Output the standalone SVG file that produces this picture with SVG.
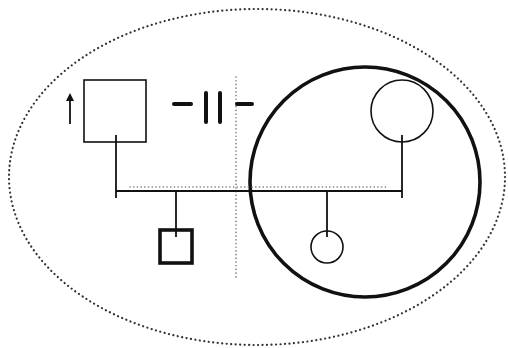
<svg xmlns="http://www.w3.org/2000/svg" width="508" height="348" viewBox="0 0 508 348">
<style>
.dot{fill:none;stroke:#333;stroke-width:2.2;stroke-dasharray:0.1 4.4;stroke-linecap:round}
.fine{fill:none;stroke:#777;stroke-width:1.6;stroke-dasharray:0.1 3.6;stroke-linecap:round}
.thin{fill:none;stroke:#111;stroke-width:1.6}
.thick{fill:none;stroke:#111;stroke-width:3.6}
.line{fill:none;stroke:#111;stroke-width:1.8}
.bar{fill:none;stroke:#111;stroke-width:4;stroke-linecap:round}
</style>
<rect width="508" height="348" fill="#fff"/>
<g id="boundary">
<ellipse class="dot" cx="257" cy="177" rx="248" ry="168"/>
</g>
<g id="household">
<circle class="thick" cx="365" cy="182" r="115"/>
</g>
<g id="divider">
<line class="fine" x1="236" y1="77" x2="236" y2="277"/>
</g>
<g id="father">
<rect class="thin" x="84" y="80" width="62" height="62"/>
</g>
<g id="mother">
<circle class="thin" cx="402" cy="111" r="31"/>
</g>
<g id="son">
<rect class="thick" x="160" y="230" width="32" height="33"/>
</g>
<g id="daughter">
<circle class="thin" cx="327" cy="247" r="16"/>
</g>
<g id="arrow">
<line class="line" x1="70" y1="124" x2="70" y2="99"/>
<polygon points="70,93 66,101 74,101" fill="#111"/>
</g>
<g id="divorce">
<line class="bar" x1="174" y1="104" x2="191" y2="104"/>
<line class="bar" x1="206" y1="93" x2="206" y2="122"/>
<line class="bar" x1="220" y1="93" x2="220" y2="122"/>
<line class="bar" x1="237" y1="104" x2="252" y2="104"/>
</g>
<g id="connectors">
<line class="line" x1="116" y1="135" x2="116" y2="198"/>
<line class="line" x1="402" y1="135" x2="402" y2="198"/>
<line class="line" x1="116" y1="191" x2="402" y2="191"/>
<line class="fine" x1="130" y1="187" x2="388" y2="187"/>
<line class="line" x1="176" y1="191" x2="176" y2="237"/>
<line class="line" x1="327" y1="191" x2="327" y2="237"/>
</g>
</svg>
